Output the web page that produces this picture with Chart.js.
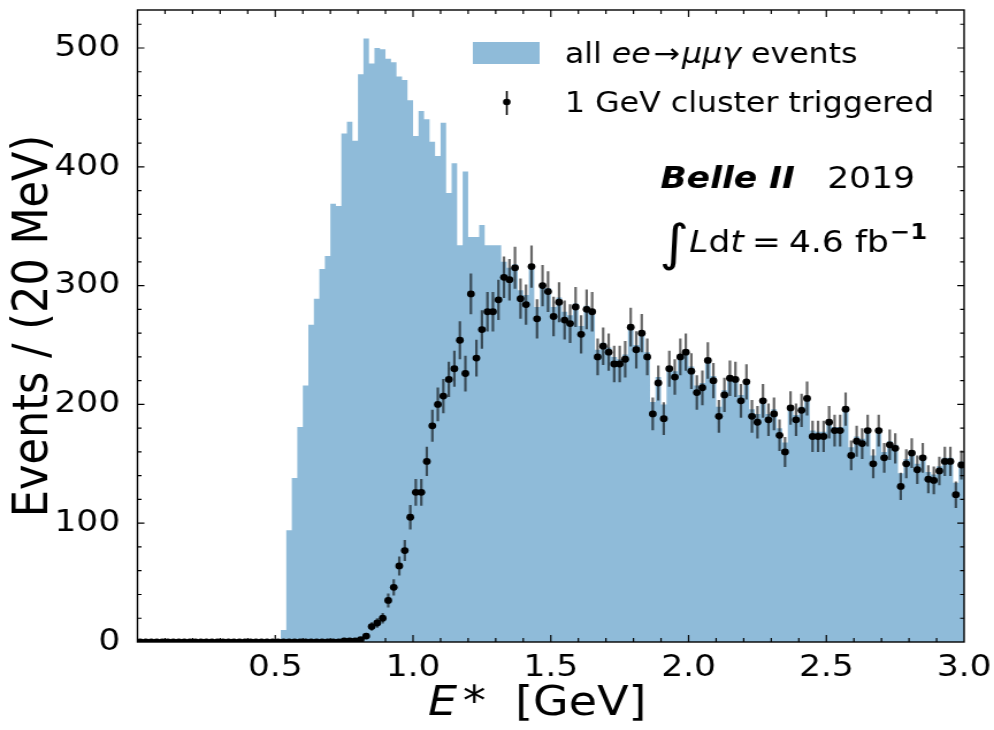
<!DOCTYPE html>
<html>
<head>
<meta charset="utf-8">
<script src="https://cdn.jsdelivr.net/npm/chart.js@4.4.1/dist/chart.umd.min.js"></script>
<style>
  html, body { margin: 0; padding: 0; background: #fff; overflow: hidden; }
  /* the reference figure is stretched sideways, so draw narrower and stretch */
  #wrap { position: absolute; left: 0; top: 0; width: 864px; height: 730px;
          transform: scaleX(1.1505); transform-origin: 0 0; }
</style>
</head>
<body>
<div id="wrap"><canvas id="mainChart"></canvas></div>
<script>
// E* in GeV, 150 bins of 20 MeV from 0 to 3.0
var binWidth = 0.02;
var nBins = 150;

// all ee -> mu mu gamma events (filled histogram)
var histCounts = [
  0,0,0,0,0,0,0,0,0,0,
  0,0,0,0,0,0,0,0,0,0,
  0,0,0,0,0,0,10,94,138,181,
  216,267,289,314,325,369,367,428,438,422,
  478,508,487,500,499,491,488,476,473,456,
  426,447,440,421,409,437,378,403,334,396,
  341,341,351,334,334,334,320,315,318,296,
  292,318,282,302,298,282,290,278,275,285,
  266,283,280,246,252,248,240,238,242,266,
  250,262,244,202,223,200,232,228,242,246,
  232,216,218,238,224,198,212,224,223,208,
  221,196,192,205,192,196,180,168,198,191,
  198,206,178,177,177,187,181,181,198,164,
  173,171,180,157,179,160,169,166,142,154,
  161,150,157,143,141,148,155,155,134,152
];

// 1 GeV cluster triggered (points with errors)
var trigCounts = [
  0,0,0,0,0,0,0,0,0,0,
  0,0,0,0,0,0,0,0,0,0,
  0,0,0,0,0,0,0,0,0,0,
  0,0,0,0,0,0,0,1,1,1,
  2,5,13,16,20,35,46,64,77,105,
  126,126,152,182,200,207,221,230,254,226,
  293,239,263,278,278,288,307,305,315,289,
  284,316,272,300,295,274,286,271,268,282,
  259,280,278,240,249,244,234,234,238,265,
  246,260,240,192,218,188,230,223,240,244,
  228,210,214,237,220,190,208,222,221,203,
  219,190,185,203,187,192,174,160,197,187,
  195,205,173,173,173,185,178,178,196,157,
  169,167,178,150,178,155,166,163,131,150,
  159,145,155,137,136,144,152,152,124,149
];

var xTickLabels = ['0.5', '1.0', '1.5', '2.0', '2.5', '3.0'];
var yTickLabels = ['0', '100', '200', '300', '400', '500'];

var histColor = 'rgba(31,119,180,0.5)';
var FONT = "'DejaVu Sans'";

// step outline points: left edge of every bin plus the closing edge
var histSteps = [];
for (var i = 0; i < nBins; i++) {
  histSteps.push({x: i * binWidth, y: histCounts[i]});
}
histSteps.push({x: nBins * binWidth, y: histCounts[nBins - 1]});

var trigPoints = trigCounts.map(function(n, i) {
  return {x: (i + 0.5) * binWidth, y: n};
});

// draws a run of text pieces with mixed styles, left to right
function drawPieces(ctx, x, y, pieces) {
  pieces.forEach(function(p) {
    ctx.font = p.font;
    x += p.pre || 0;
    ctx.fillText(p.t, x, y + (p.dy || 0));
    x += ctx.measureText(p.t).width + (p.post || 0);
  });
  return x;
}

var errorBars = {
  id: 'errorBars',
  beforeDatasetDraw: function(chart, args) {
    if (args.index !== 1) return;
    var ctx = chart.ctx, xs = chart.scales.x, ys = chart.scales.y;
    ctx.save();
    ctx.strokeStyle = 'rgba(0,0,0,0.6)';
    ctx.lineWidth = 2.2;
    ctx.beginPath();
    trigPoints.forEach(function(p) {
      if (!p.y) return;
      var err = Math.sqrt(p.y);
      var px = xs.getPixelForValue(p.x);
      ctx.moveTo(px, ys.getPixelForValue(p.y - err));
      ctx.lineTo(px, ys.getPixelForValue(p.y + err));
    });
    ctx.stroke();
    ctx.restore();
  }
};

var frameAndText = {
  id: 'frameAndText',
  afterDraw: function(chart) {
    var ctx = chart.ctx, a = chart.chartArea;
    var xs = chart.scales.x, ys = chart.scales.y;
    ctx.save();
    ctx.strokeStyle = '#000';
    ctx.fillStyle = '#000';

    // inward ticks on all four sides
    ctx.lineWidth = 1.2;
    ctx.beginPath();
    for (var k = 1; k < 30; k++) {
      var v = k / 10;
      var px = xs.getPixelForValue(v);
      var len = (k % 5 === 0) ? 7 : 4;
      ctx.moveTo(px, a.bottom); ctx.lineTo(px, a.bottom - len);
      ctx.moveTo(px, a.top); ctx.lineTo(px, a.top + len);
    }
    for (var m = 20; m < 532; m += 20) {
      var py = ys.getPixelForValue(m);
      var ylen = (m % 100 === 0) ? 6 : 3.5;
      ctx.moveTo(a.left, py); ctx.lineTo(a.left + ylen, py);
      ctx.moveTo(a.right, py); ctx.lineTo(a.right - ylen, py);
    }
    ctx.stroke();

    // frame
    ctx.lineWidth = 1.4;
    ctx.strokeRect(a.left, a.top, a.right - a.left, a.bottom - a.top);

    // legend
    ctx.fillStyle = histColor;
    ctx.fillRect(411, 42, 58, 22);
    ctx.fillStyle = '#000';
    ctx.strokeStyle = '#000';
    ctx.lineWidth = 1.6;
    ctx.beginPath();
    ctx.moveTo(440.5, 91); ctx.lineTo(440.5, 115);
    ctx.stroke();
    ctx.beginPath();
    ctx.arc(440.5, 102, 3.3, 0, Math.PI * 2);
    ctx.fill();

    ctx.textBaseline = 'alphabetic';
    ctx.textAlign = 'left';
    var reg = '27.5px ' + FONT, ita = 'italic 27.5px ' + FONT;
    drawPieces(ctx, 491, 63, [
      {t: 'all ', font: reg},
      {t: 'ee', font: ita},
      {t: '\u2192', font: reg, pre: 2, post: 2},
      {t: '\u03bc\u03bc\u03b3', font: ita},
      {t: ' events', font: reg}
    ]);
    ctx.font = reg;
    ctx.fillText('1 GeV cluster triggered', 491, 112);

    // experiment label
    ctx.font = 'italic bold 30px ' + FONT;
    ctx.fillText('Belle II', 574, 188);
    ctx.font = '30px ' + FONT;
    ctx.fillText('2019', 719, 188);

    var r30 = '30px ' + FONT, i30 = 'italic 30px ' + FONT;
    drawPieces(ctx, 573, 252, [
      {t: '\u222b', font: '50px ' + FONT, dy: 8, post: 0},
      {t: 'L', font: i30},
      {t: 'd', font: r30},
      {t: 't', font: i30},
      {t: '=', font: r30, pre: 7, post: 7},
      {t: '4.6 fb', font: r30},
      {t: '\u22121', font: 'bold 21px ' + FONT, dy: -13, pre: 1}
    ]);

    // axis titles
    drawPieces(ctx, 372, 715, [
      {t: 'E', font: 'italic 40px ' + FONT},
      {t: '*', font: '40px ' + FONT, pre: 5},
      {t: '  [GeV]', font: '40px ' + FONT}
    ]);
    ctx.save();
    ctx.translate(41, (a.top + a.bottom) / 2);
    ctx.rotate(-Math.PI / 2);
    ctx.textAlign = 'center';
    ctx.font = '43px ' + FONT;
    ctx.fillText('Events / (20 MeV)', 0, 0);
    ctx.restore();

    ctx.restore();
  }
};

var data = {
  datasets: [{
    label: 'all ee -> mumugamma events',
    type: 'line',
    data: histSteps,
    // each bin value holds from its own left edge to the next edge
    stepped: 'before',
    fill: 'origin',
    backgroundColor: histColor,
    borderWidth: 0,
    pointRadius: 0,
    order: 2
  }, {
    label: '1 GeV cluster triggered',
    type: 'scatter',
    data: trigPoints,
    pointRadius: 3.4,
    pointBackgroundColor: '#000',
    pointBorderWidth: 0,
    order: 1
  }]
};

var options = {
  responsive: true,
  maintainAspectRatio: false,
  animation: false,
  events: [],
  layout: { padding: { left: 0, right: 26, top: 10, bottom: 0 } },
  plugins: { legend: { display: false }, tooltip: { enabled: false } },
  scales: {
    x: {
      type: 'linear', min: 0, max: 3,
      grid: { display: false, drawTicks: false },
      border: { display: false },
      ticks: {
        stepSize: 0.5, padding: 8, color: '#000', maxRotation: 0, autoSkip: false,
        font: { family: 'DejaVu Sans', size: 30 },
        callback: function(v) {
          var idx = Math.round(v / 0.5) - 1;
          return (idx >= 0 && Math.abs(v - (idx + 1) * 0.5) < 1e-6) ? xTickLabels[idx] : '';
        }
      },
      afterFit: function(s) { s.height = 88; s.paddingLeft = 0; s.paddingRight = 0; }
    },
    y: {
      min: 0, max: 532,
      grid: { display: false, drawTicks: false },
      border: { display: false },
      ticks: {
        stepSize: 100, padding: 15, color: '#000', autoSkip: false,
        font: { family: 'DejaVu Sans', size: 30 },
        callback: function(v) {
          return (v % 100 === 0) ? yTickLabels[v / 100] : '';
        }
      },
      afterFit: function(s) { s.width = 119.5; s.paddingTop = 0; s.paddingBottom = 0; }
    }
  }
};

var config = {
  type: 'scatter',
  data: data,
  options: options,
  plugins: [errorBars, frameAndText]
};

var ctx = document.getElementById('mainChart');
new Chart(ctx, config);
</script>
</body>
</html>
